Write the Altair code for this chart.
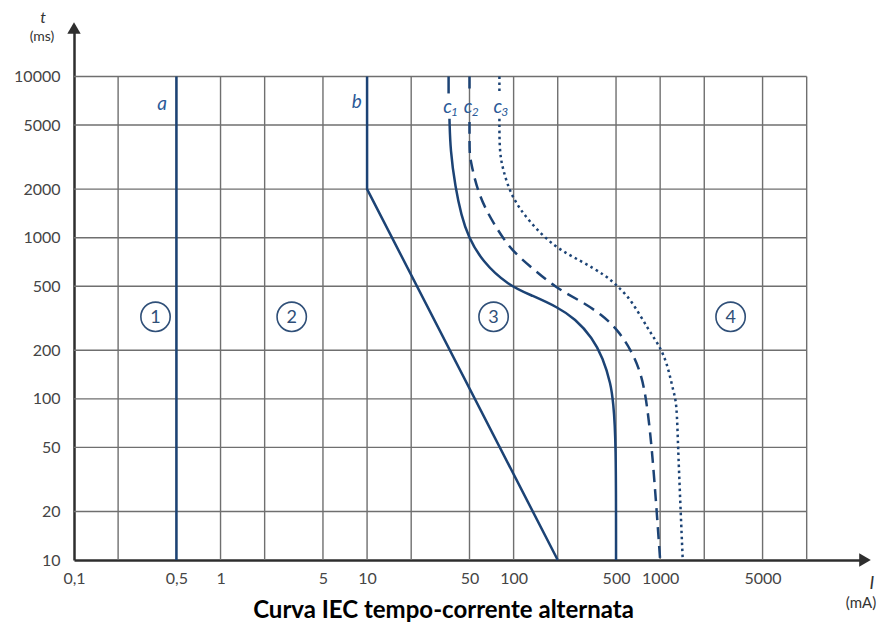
import altair as alt
import pandas as pd

# ---------------- data ----------------
x_grid = [0.2, 0.5, 1, 2, 5, 10, 20, 50, 100, 200, 500, 1000, 2000, 5000, 10000]
y_grid = [20, 50, 100, 200, 500, 1000, 2000, 5000, 10000]
x_ticks = [0.1, 0.5, 1, 5, 10, 50, 100, 500, 1000, 5000]
y_ticks = [10, 20, 50, 100, 200, 500, 1000, 2000, 5000, 10000]

a_I = [0.5, 0.5]
a_t = [10, 10000]
b_I = [10, 10, 200]
b_t = [10000, 2000, 10]

c1_top_I = [36, 36]
c1_top_t = [10000, 7850]
c1_I = [36.5, 37, 40, 44, 49, 61, 92, 135, 200, 263, 345, 406, 462, 478, 500, 500]
c1_t = [5470, 3490, 2055, 1373, 1015, 713, 505, 436, 370, 314, 239, 180, 123, 95, 58, 10]

c2_top_I = [50, 50]
c2_top_t = [10000, 7850]
c2_I = [50, 50, 50.5, 58, 77, 97, 136, 195, 276, 404, 521, 634, 730, 798, 882, 1000]
c2_t = [5230, 3490, 3060, 1773, 1128, 831, 640, 487, 413, 332, 263, 200, 149, 106, 50, 10]

c3_top_I = [80, 80]
c3_top_t = [10000, 7850]
c3_I = [80, 80, 84, 97, 128, 190, 292, 425, 512, 634, 840, 985, 1120, 1230, 1298, 1323, 1426]
c3_t = [5470, 3490, 2680, 1773, 1253, 871, 713, 583, 500, 413, 264, 215, 165, 111, 95, 50, 10]

zone_labels = ["1", "2", "3", "4"]
zone_I = [0.36, 3.06, 73, 3025]
zone_t = [323, 323, 323, 323]

curve_labels = ["a", "b"]
curve_label_I = [0.40, 8.5]
curve_label_t = [6760, 6900]

c_labels = ["c", "c", "c"]
c_subs = ["1", "2", "3"]
c_label_I = [36.5, 50.5, 80.5]
c_label_t = [6500, 6500, 6500]

title_text = "Curva IEC tempo-corrente alternata"

# ---------------- styling ----------------
W, H = 791, 532
LINE = "#1c4375"
LABEL_BLUE = "#2b5a98"
GRID = "#6f6f6f"
AXIS = "#2e2e2e"

xs = alt.Scale(type="log", domain=[0.1, 25000], nice=False, zero=False)
ys = alt.Scale(type="log", domain=[10, 20000], nice=False, zero=False)

xa = alt.Axis(values=x_ticks, grid=False, ticks=False, domainColor=AXIS, title=None,
              domainWidth=2.5, labelFont="Lato", labelFontSize=16,
              labelColor="#454545", labelPadding=10, labelFlush=False,
              labelOverlap=False,
              labelExpr="replace(toString(datum.value), '.', ',')")
ya = alt.Axis(values=y_ticks, grid=False, ticks=False, domainColor=AXIS, title=None,
              domainWidth=2.5, labelFont="Lato", labelFontSize=16,
              labelColor="#454545", labelPadding=14, labelFlush=False,
              labelOverlap=False, format="d")


def X(f):
    return alt.X(f, scale=xs, axis=xa, title=None)


def Y(f):
    return alt.Y(f, scale=ys, axis=ya, title=None)


def frame(I, t, seg):
    return pd.DataFrame({"I": I, "t": t, "seg": seg, "idx": list(range(len(I)))})


vgrid_df = pd.DataFrame({"I": x_grid, "t0": [10] * len(x_grid), "t1": [10000] * len(x_grid)})
hgrid_df = pd.DataFrame({"t": y_grid, "I0": [0.1] * len(y_grid), "I1": [10000] * len(y_grid)})

vgrid = alt.Chart(vgrid_df).mark_rule(color=GRID, strokeWidth=1.4).encode(
    x=X("I:Q"), y=Y("t0:Q"), y2="t1:Q",
)
hgrid = alt.Chart(hgrid_df).mark_rule(color=GRID, strokeWidth=1.4).encode(
    y=Y("t:Q"), x=X("I0:Q"), x2="I1:Q",
)

ab_df = pd.concat([frame(a_I, a_t, "a"), frame(b_I, b_t, "b")])
c1_df = pd.concat([frame(c1_top_I, c1_top_t, "top"), frame(c1_I, c1_t, "main")])
c2_df = pd.concat([frame(c2_top_I, c2_top_t, "top"), frame(c2_I, c2_t, "main")])
c3_df = pd.concat([frame(c3_top_I, c3_top_t, "top"), frame(c3_I, c3_t, "main")])


def line_layer(df, interp, dash=None):
    kw = dict(color=LINE, strokeWidth=2.5, interpolate=interp)
    if dash is not None:
        kw["strokeDash"] = dash
    return alt.Chart(df).mark_line(**kw).encode(
        x=X("I:Q"), y=Y("t:Q"), detail="seg:N", order="idx:Q",
    )


ab = line_layer(ab_df, "linear")
c1 = line_layer(c1_df, "basis")
c2 = line_layer(c2_df, "basis", [12, 7])
c3 = line_layer(c3_df, "basis", [2.5, 3.5])

arrow_df = pd.DataFrame({"I": [25000, 0.1], "t": [10, 20000], "shape": ["triangle-right", "triangle-up"]})
arrows = alt.Chart(arrow_df).mark_point(filled=True, size=180, color=AXIS, opacity=1).encode(
    x=X("I:Q"), y=Y("t:Q"),
    shape=alt.Shape("shape:N", scale=None, legend=None),
)

zone_df = pd.DataFrame({"I": zone_I, "t": zone_t, "label": zone_labels})
zone_circles = alt.Chart(zone_df).mark_point(shape="circle", filled=False, size=860,
                                             color="#2f4f78", strokeWidth=1.6, opacity=1).encode(
    x=X("I:Q"), y=Y("t:Q"),
)
zone_text = alt.Chart(zone_df).mark_text(font="Lato", fontSize=18, color="#2f4f78",
                                         baseline="middle", align="center", dy=1).encode(
    x=X("I:Q"), y=Y("t:Q"), text="label:N",
)

ab_lab_df = pd.DataFrame({"I": curve_label_I, "t": curve_label_t, "label": curve_labels})
ab_labels = alt.Chart(ab_lab_df).mark_text(font="Lato", fontSize=19, fontStyle="italic",
                                           color=LABEL_BLUE, baseline="middle", align="center").encode(
    x=X("I:Q"), y=Y("t:Q"), text="label:N",
)

c_lab_df = pd.DataFrame({"I": c_label_I, "t": c_label_t, "label": c_labels, "sub": c_subs})
c_labels_chart = alt.Chart(c_lab_df).mark_text(font="Lato", fontSize=19, fontStyle="italic",
                                               color=LABEL_BLUE, baseline="middle", align="center",
                                               dx=-2).encode(
    x=X("I:Q"), y=Y("t:Q"), text="label:N",
)
c_subs_chart = alt.Chart(c_lab_df).mark_text(font="Lato", fontSize=12, fontStyle="italic",
                                             color=LABEL_BLUE, baseline="middle", align="center",
                                             dx=5, dy=5).encode(
    x=X("I:Q"), y=Y("t:Q"), text="sub:N",
)

ann_df = pd.DataFrame({
    "text": ["t", "(ms)", "I", "(mA)", title_text],
    "px": [-31, -32, 798, 787, 369.5],
    "py": [-10, 9, 556, 575, 590],
})


def ann(i, **kw):
    d = ann_df.iloc[[i]]
    return alt.Chart(d).mark_text(**kw).encode(
        x=alt.value(float(d["px"].iloc[0])),
        y=alt.value(float(d["py"].iloc[0])),
        text="text:N",
    )


t_lab = ann(0, font="Lato", fontSize=16, fontStyle="italic", color="#333", baseline="middle", align="center")
ms_lab = ann(1, font="Lato", fontSize=14, color="#333", baseline="middle", align="center")
i_lab = ann(2, font="Lato", fontSize=18, fontStyle="italic", color="#333", baseline="middle", align="center")
ma_lab = ann(3, font="Lato", fontSize=15, color="#333", baseline="middle", align="center")
title = ann(4, font="Lato", fontSize=24, fontWeight="bold", color="#000", baseline="alphabetic", align="center")

chart = alt.layer(
    vgrid, hgrid, ab, c1, c2, c3, arrows, zone_circles, zone_text,
    ab_labels, c_labels_chart, c_subs_chart, t_lab, ms_lab, i_lab, ma_lab, title,
).properties(
    width=W, height=H,
    background="white",
    autosize=alt.AutoSizeParams(type="none"),
    padding={"left": 66, "top": 20, "right": 14, "bottom": 66},
).configure_view(stroke=None)

chart.save("out.html", embed_options={"renderer": "svg", "actions": False})
